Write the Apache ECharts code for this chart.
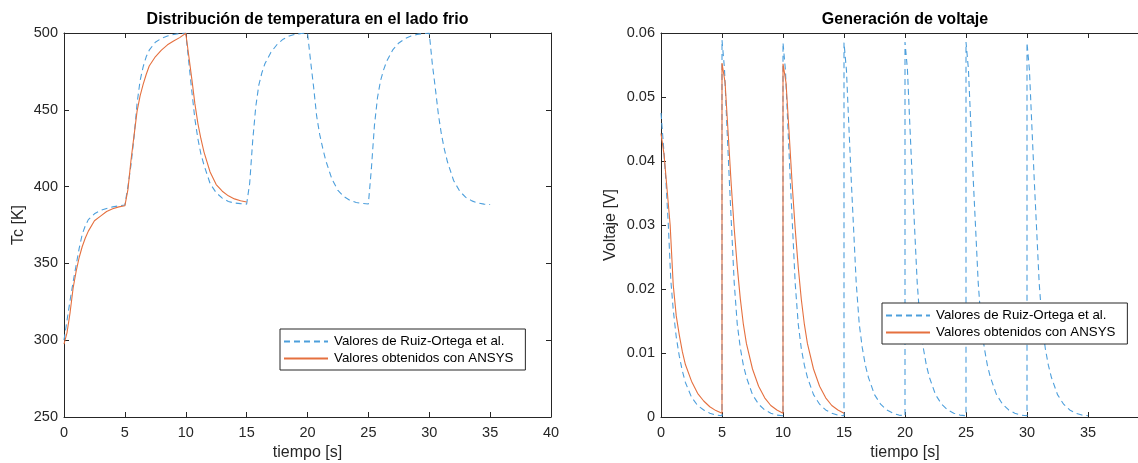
<!DOCTYPE html>
<html>
<head>
<meta charset="utf-8">
<script src="https://cdn.jsdelivr.net/npm/echarts@6/dist/echarts.min.js"></script>
<style>
html,body{margin:0;padding:0;background:#fff;}
#chart{width:1138px;height:463px;}
</style>
</head>
<body>
<div id="chart"></div>
<script>
// ---------- DATA ----------
const legendNames = ['Valores de Ruiz-Ortega et al.', 'Valores obtenidos con ANSYS'];
const titles = ['Distribución de temperatura en el lado frio', 'Generación de voltaje'];
const xTicks = [0, 5, 10, 15, 20, 25, 30, 35, 40];
const tempTicks = [250, 300, 350, 400, 450, 500];
const voltTicks = [0, 0.01, 0.02, 0.03, 0.04, 0.05, 0.06];

// Temperature, Ruiz-Ortega (blue dashed)
const tempRuizT = [0,0.25,0.5,0.75,1,1.25,1.5,1.75,2,2.5,3,3.5,4,4.5,5,
  5.25,5.5,5.75,6,6.25,6.5,6.75,7,7.5,8,8.5,9,9.5,10,
  10.25,10.5,10.75,11,11.25,11.5,12,12.5,13,13.5,14,14.5,15,
  15.25,15.5,15.75,16,16.25,16.5,17,17.5,18,18.5,19,19.5,20,
  20.25,20.5,20.75,21,21.25,21.5,22,22.5,23,23.5,24,24.5,25,
  25.25,25.5,25.75,26,26.25,26.5,27,27.5,28,28.5,29,29.5,30,
  30.25,30.5,30.75,31,31.25,31.5,32,32.5,33,33.5,34,34.5,35];
const tempRuiz = [300,313,326,338,349,360,369,374.5,378.5,382.3,384.5,385.8,386.8,387.5,388,
  400,414,432,454,469,478,484.5,488.8,494,496.5,498,499,499.6,500,
  481,462,444,431,421,414,402,396,392.5,390.3,389.3,388.9,388.6,
  402,430,452,466,474,480,487.5,492.5,496,498,499.2,499.7,500,
  482,465,446,434,425,417,405,397.5,393.5,391,389.7,389,388.7,
  412,440,458,469,476,481.5,489,493.5,496.3,498,499.1,499.6,500,
  480,464,447,434,424,416,404,397,393,390.7,389.3,388.6,388.3];

// Temperature, ANSYS (orange solid)
const tempAnsysT = [0,0.25,0.5,0.75,1,1.25,1.5,1.75,2,2.5,3,3.5,4,4.5,5,
  5.25,5.5,5.75,6,6.25,6.5,6.75,7,7.5,8,8.5,9,9.5,10,
  10.1,10.25,10.5,10.75,11,11.25,11.5,12,12.5,13,13.5,14,14.5,15];
const tempAnsys = [297.5,305,318,334,345,354,361,366.5,371,377.8,380.8,383.8,385.6,386.8,387.5,
  398,417,433,449,459,466.5,473,478.5,484.5,488.8,492.3,494.8,497,499.8,
  494,485,470,454,441,431,422.5,409.5,401.3,397,394,392,390.8,390];

// Voltage, Ruiz-Ortega (blue dashed)
const voltRuizT = [0,0.2,0.4,0.6,0.8,1,1.25,1.5,1.75,2,2.5,3,3.5,4,4.5,5,
  5,5.2,5.4,5.6,5.8,6,6.25,6.5,6.75,7,7.5,8,8.5,9,9.5,10,
  10,10.2,10.4,10.6,10.8,11,11.25,11.5,11.75,12,12.5,13,13.5,14,14.5,15,
  15,15.2,15.4,15.6,15.8,16,16.25,16.5,16.75,17,17.5,18,18.5,19,19.5,20,
  20,20.2,20.4,20.6,20.8,21,21.25,21.5,21.75,22,22.5,23,23.5,24,24.5,25,
  25,25.2,25.4,25.6,25.8,26,26.25,26.5,26.75,27,27.5,28,28.5,29,29.5,30,
  30,30.2,30.4,30.6,30.8,31,31.25,31.5,31.75,32,32.5,33,33.5,34,34.5,35];
const voltRuiz = [0.0475,0.0425,0.037,0.030,0.0215,0.0168,0.0125,0.0095,0.0072,0.0054,0.0031,0.0018,0.0011,0.0006,0.0003,0.0002,
  0.0589,0.0545,0.0455,0.037,0.029,0.021,0.0145,0.0108,0.0081,0.0062,0.0035,0.002,0.0011,0.0006,0.0003,0.0002,
  0.0585,0.0542,0.0454,0.0368,0.0289,0.0209,0.0145,0.0107,0.0081,0.0062,0.0035,0.002,0.0011,0.0006,0.0003,0.0002,
  0.0585,0.0542,0.0454,0.0368,0.0289,0.021,0.0145,0.0108,0.0081,0.0062,0.0035,0.002,0.0011,0.0006,0.0003,0.0002,
  0.0586,0.0543,0.0455,0.0369,0.029,0.021,0.0145,0.0108,0.0081,0.0062,0.0035,0.002,0.0011,0.0006,0.0003,0.0002,
  0.0586,0.0543,0.0455,0.0369,0.029,0.021,0.0145,0.0108,0.0081,0.0062,0.0035,0.002,0.0011,0.0006,0.0003,0.0002,
  0.0585,0.0542,0.0454,0.0368,0.0289,0.0209,0.0145,0.0107,0.0081,0.0062,0.0035,0.002,0.0011,0.0006,0.0003,0.0002];

// Voltage, ANSYS (orange solid)
const voltAnsysT = [0,0.25,0.5,0.75,1,1.25,1.5,1.75,2,2.5,3,3.5,4,4.5,5,
  5,5.25,5.5,5.75,6,6.25,6.5,6.75,7,7.5,8,8.5,9,9.5,10,
  10,10.25,10.5,10.75,11,11.25,11.5,11.75,12,12.5,13,13.5,14,14.5,15];
const voltAnsys = [0.0443,0.041,0.0355,0.030,0.0207,0.0158,0.0128,0.0102,0.0082,0.0056,0.0037,0.0025,0.0016,0.001,0.0006,
  0.0553,0.0523,0.0445,0.0365,0.0295,0.0235,0.0185,0.0145,0.0115,0.0075,0.0048,0.003,0.0018,0.0011,0.0006,
  0.0552,0.0522,0.0444,0.0364,0.0294,0.0234,0.0184,0.0145,0.0115,0.0075,0.0048,0.003,0.0018,0.0011,0.0006];

// ---------- CHART ----------
const zip = (a, b) => a.map((t, i) => [t, b[i]]);
const FONT = 'Liberation Sans, Arial, Helvetica, sans-serif';
const AX = '#262626';
const BLUE = '#4d9fdc';
const ORANGE = '#e5703f';

function mainX(gi, name) {
  return {
    type: 'value', gridIndex: gi, min: xTicks[0], max: xTicks[xTicks.length - 1], interval: 5,
    position: 'bottom',
    name: name, nameLocation: 'middle', nameGap: 28,
    nameTextStyle: {fontFamily: FONT, fontSize: 16, color: AX},
    axisLine: {show: true, onZero: false, lineStyle: {color: AX, width: 1}},
    axisTick: {show: true, inside: true, length: 5, lineStyle: {color: AX}},
    axisLabel: {show: true, margin: 8, fontFamily: FONT, fontSize: 14.5, color: AX},
    splitLine: {show: false}
  };
}
function topX(gi) {
  return {
    type: 'value', gridIndex: gi, min: xTicks[0], max: xTicks[xTicks.length - 1], interval: 5,
    position: 'top',
    axisLine: {show: true, onZero: false, lineStyle: {color: AX, width: 1}},
    axisTick: {show: true, inside: true, length: 5, lineStyle: {color: AX}},
    axisLabel: {show: false}, splitLine: {show: false}
  };
}
function mainY(gi, ticks, name, gap) {
  return {
    type: 'value', gridIndex: gi, min: ticks[0], max: ticks[ticks.length - 1],
    interval: ticks[1] - ticks[0], position: 'left',
    name: name, nameLocation: 'middle', nameGap: gap,
    nameTextStyle: {fontFamily: FONT, fontSize: 16, color: AX},
    axisLine: {show: true, onZero: false, lineStyle: {color: AX, width: 1}},
    axisTick: {show: true, inside: true, length: 5, lineStyle: {color: AX}},
    axisLabel: {show: true, margin: 6, fontFamily: FONT, fontSize: 14.5, color: AX,
      formatter: v => String(+v.toFixed(4))},
    splitLine: {show: false}
  };
}
function rightY(gi, ticks) {
  return {
    type: 'value', gridIndex: gi, min: ticks[0], max: ticks[ticks.length - 1],
    interval: ticks[1] - ticks[0], position: 'right',
    axisLine: {show: true, onZero: false, lineStyle: {color: AX, width: 1}},
    axisTick: {show: true, inside: true, length: 5, lineStyle: {color: AX}},
    axisLabel: {show: false}, splitLine: {show: false}
  };
}
function lineSeries(name, xi, yi, data, color, dashed) {
  return {
    name: name, type: 'line', xAxisIndex: xi, yAxisIndex: yi, data: data,
    showSymbol: false, symbol: 'none', smooth: false, animation: false,
    lineStyle: {color: color, width: 1.1, type: dashed ? [6, 4] : 'solid'},
    itemStyle: {color: color}
  };
}
function legend(left, top) {
  return {
    data: legendNames, orient: 'vertical', left: left, top: top,
    itemWidth: 44, itemHeight: 14, itemGap: 4, align: 'left',
    padding: [6, 12, 5, 3],
    backgroundColor: '#fff', borderColor: AX, borderWidth: 1, borderRadius: 0,
    itemStyle: {opacity: 0},
    textStyle: {fontFamily: FONT, fontSize: 13.3, color: '#000', padding: [0, 0, 0, 1]},
    selectedMode: false
  };
}

const chart = echarts.init(document.getElementById('chart'), null, {renderer: 'canvas'});
chart.setOption({
  animation: false,
  backgroundColor: '#fff',
  title: [
    {text: titles[0], left: 307.5, top: 12, textAlign: 'center', padding: 0,
      textStyle: {fontFamily: FONT, fontSize: 16, fontWeight: 'bold', color: '#000'}},
    {text: titles[1], left: 905, top: 12, textAlign: 'center', padding: 0,
      textStyle: {fontFamily: FONT, fontSize: 16, fontWeight: 'bold', color: '#000'}}
  ],
  grid: [
    {left: 64, top: 33, width: 487, height: 384, show: false, containLabel: false, outerBoundsMode: 'none'},
    {left: 661, top: 33, width: 488, height: 384, show: false, containLabel: false, outerBoundsMode: 'none'}
  ],
  xAxis: [mainX(0, 'tiempo [s]'), topX(0), mainX(1, 'tiempo [s]'), topX(1)],
  yAxis: [mainY(0, tempTicks, 'Tc [K]', 37), rightY(0, tempTicks),
          mainY(1, voltTicks, 'Voltaje [V]', 42), rightY(1, voltTicks)],
  legend: [legend(280, 329), legend(882, 303)],
  series: [
    lineSeries(legendNames[0], 0, 0, zip(tempRuizT, tempRuiz), BLUE, true),
    lineSeries(legendNames[1], 0, 0, zip(tempAnsysT, tempAnsys), ORANGE, false),
    lineSeries(legendNames[0], 2, 2, zip(voltRuizT, voltRuiz), BLUE, true),
    lineSeries(legendNames[1], 2, 2, zip(voltAnsysT, voltAnsys), ORANGE, false)
  ]
});
</script>
</body>
</html>
